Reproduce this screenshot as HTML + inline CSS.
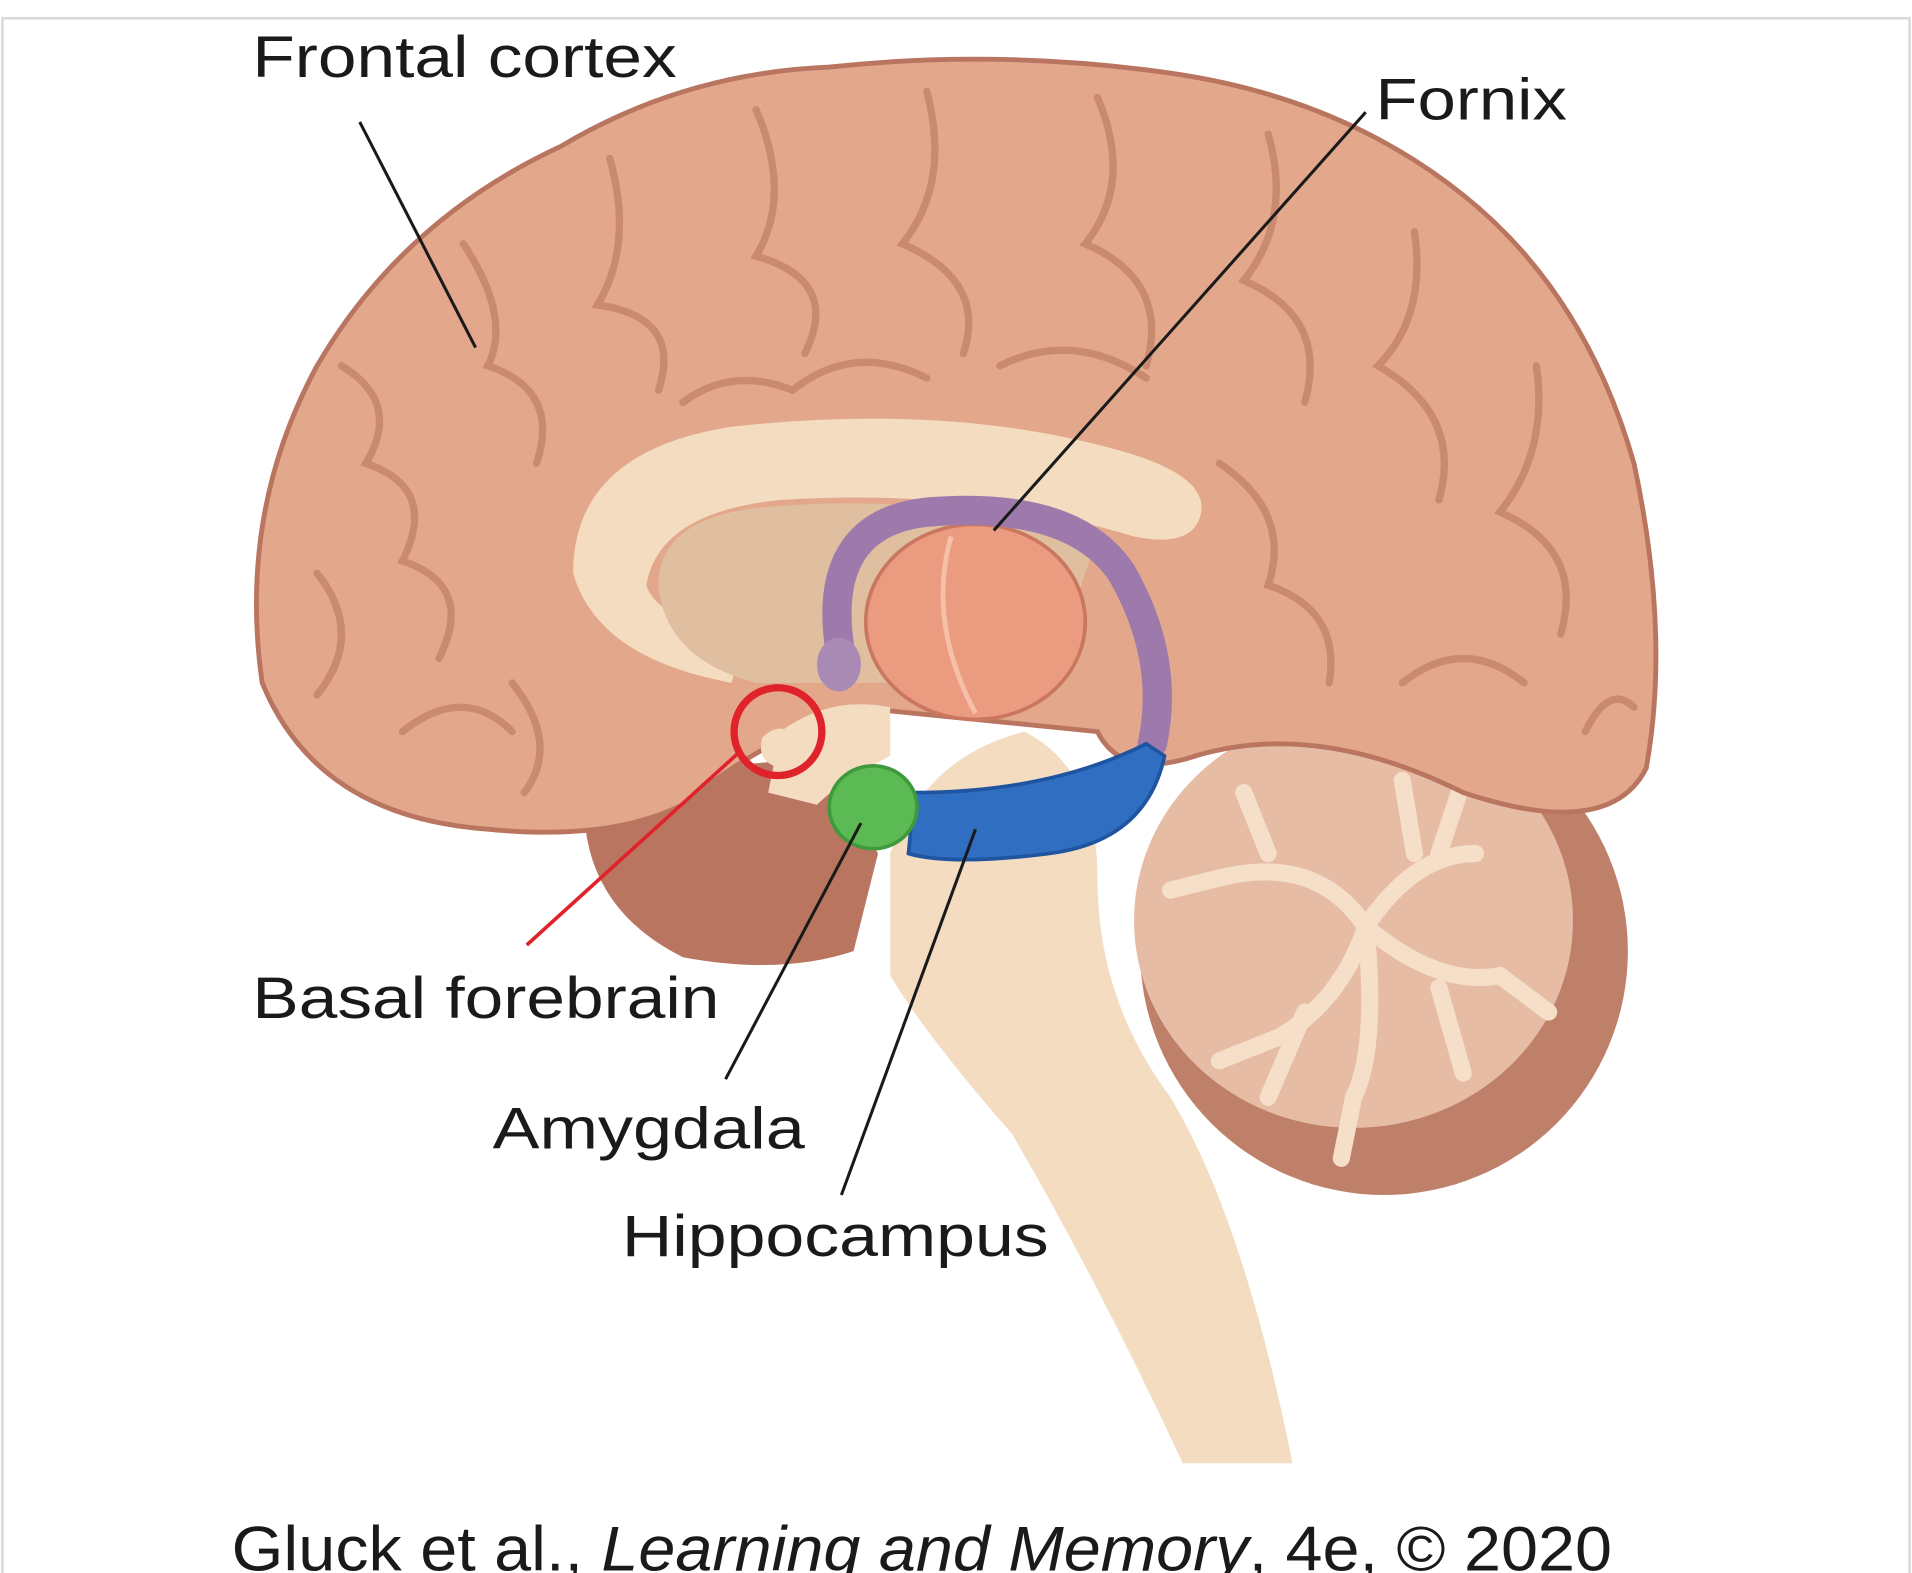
<!DOCTYPE html>
<html><head><meta charset="utf-8">
<style>
html,body{margin:0;padding:0;background:#fff;}
svg{display:block;}
text{font-family:"Liberation Sans",sans-serif;fill:#1a1a1a;}
</style></head>
<body>
<svg width="1912" height="1573" viewBox="0 0 1568 1290" preserveAspectRatio="none" xmlns="http://www.w3.org/2000/svg">
<rect x="2" y="15" width="1564" height="1290" fill="#fff" stroke="#d8d8d8" stroke-width="2"/>
<!-- temporal lobe underside -->
<path d="M480,640 Q470,740 560,785 Q640,800 700,780 L720,700 L680,620 Z" fill="#b97560"/>
<!-- cerebellum -->
<ellipse cx="1135" cy="780" rx="200" ry="200" fill="#bf806a"/>
<ellipse cx="1110" cy="755" rx="180" ry="170" fill="#e6bca4"/>
<g stroke="#f6dfc8" stroke-width="14" fill="none" stroke-linecap="round">
<path d="M1000,720 Q1080,700 1120,760 Q1160,700 1210,700 M1120,760 Q1100,820 1050,850 M1120,760 Q1180,810 1230,800 M1120,760 Q1130,860 1110,900"/>
<path d="M1040,700 L1020,650 M1180,700 L1200,640 M1050,850 L1000,870 M1230,800 L1270,830 M1110,900 L1100,950 M1000,720 L960,730 M1160,700 L1150,640 M1070,830 L1040,900 M1180,810 L1200,880"/>
</g>
<!-- cerebrum -->
<path d="M215,560 Q195,420 260,300 Q330,180 460,120 Q560,60 680,55 Q820,40 960,60 Q1100,80 1200,160 Q1300,240 1340,380 Q1370,520 1350,630 Q1320,690 1200,650 Q1080,590 980,620 Q920,640 900,600 L700,580 Q620,610 560,660 Q500,690 400,680 Q260,670 215,560 Z" fill="#e3a88c" stroke="#b97560" stroke-width="4"/>
<g stroke="#c98a6f" stroke-width="6" fill="none" stroke-linecap="round">
<path d="M280,300 Q330,330 300,380 Q360,400 330,460 Q390,480 360,540"/>
<path d="M380,200 Q420,260 400,300 Q460,320 440,380"/>
<path d="M500,130 Q520,200 490,250 Q560,260 540,320"/>
<path d="M620,90 Q650,160 620,210 Q690,230 660,290"/>
<path d="M760,75 Q780,150 740,200 Q810,230 790,290"/>
<path d="M900,80 Q930,150 890,200 Q960,230 940,300"/>
<path d="M1040,110 Q1060,180 1020,230 Q1090,260 1070,330"/>
<path d="M1160,190 Q1170,260 1130,300 Q1200,340 1180,410"/>
<path d="M1260,300 Q1270,370 1230,420 Q1300,450 1280,520"/>
<path d="M1250,560 Q1200,520 1150,560"/>
<path d="M260,470 Q300,520 260,570"/>
<path d="M420,560 Q460,610 430,650"/>
<path d="M1000,380 Q1060,420 1040,480 Q1100,500 1090,560"/>
<path d="M560,330 Q600,300 650,320 Q700,280 760,310"/>
<path d="M820,300 Q880,270 940,310"/>
<path d="M330,600 Q380,560 420,600"/>
<path d="M1300,600 Q1320,560 1340,580"/>
</g>
<!-- corpus callosum region -->
<path d="M470,470 Q470,370 600,350 Q780,330 920,370 Q990,390 985,420 Q980,450 930,440 Q800,400 640,410 Q540,420 530,480 Q540,510 610,520 L600,560 Q490,540 470,470 Z" fill="#f3dcc0"/>
<path d="M540,480 Q540,420 640,415 Q760,405 900,440 L860,560 L620,560 Q545,540 540,480 Z" fill="#dfbf9f"/>
<!-- brainstem -->
<path d="M730,700 Q760,620 840,600 Q900,630 900,720 Q900,820 960,900 Q1020,1000 1060,1200 L970,1200 Q900,1050 830,930 Q760,850 730,800 Z" fill="#f3dcc0"/>
<path d="M640,600 Q680,570 730,580 L730,620 Q690,640 670,660 L630,650 Z" fill="#f3dcc0"/>
<!-- thalamus -->
<ellipse cx="800" cy="510" rx="90" ry="80" fill="#eb9b80" stroke="#c9775e" stroke-width="3"/>
<path d="M780,440 Q760,510 800,585" stroke="#f5c0a8" stroke-width="4" fill="none"/>
<!-- fornix -->
<path d="M690,540 Q670,430 760,420 Q880,410 920,470 Q960,540 945,610" stroke="#9d7aab" stroke-width="24" fill="none" stroke-linecap="round"/>
<ellipse cx="688" cy="545" rx="18" ry="22" fill="#a88ab5"/>
<!-- hippocampus -->
<path d="M750,650 Q860,650 940,610 L955,620 Q940,690 860,700 Q780,710 745,700 Z" fill="#2f6ec1" stroke="#1f55a0" stroke-width="3"/>
<!-- amygdala -->
<ellipse cx="716" cy="662" rx="36" ry="34" fill="#5cba55" stroke="#3e9a3c" stroke-width="3"/>
<!-- basal forebrain -->
<path d="M625,605 Q640,590 655,605 Q660,625 640,630 Q620,625 625,605 Z" fill="#f3dcc0"/>
<circle cx="638" cy="600" r="36" fill="none" stroke="#e0232b" stroke-width="6"/>
<!-- leader lines -->
<g stroke="#1a1a1a" stroke-width="2.5">
<line x1="295" y1="100" x2="390" y2="285"/>
<line x1="1120" y1="92" x2="815" y2="435"/>
<line x1="706" y1="675" x2="595" y2="885"/>
<line x1="800" y1="680" x2="690" y2="980"/>
</g>
<line x1="605" y1="618" x2="432" y2="775" stroke="#e0232b" stroke-width="3"/>
<!-- labels -->
<text x="207" y="63" font-size="48" textLength="348" lengthAdjust="spacingAndGlyphs">Frontal cortex</text>
<text x="1128" y="98" font-size="48" textLength="157" lengthAdjust="spacingAndGlyphs">Fornix</text>
<text x="207" y="835" font-size="48" textLength="383" lengthAdjust="spacingAndGlyphs">Basal forebrain</text>
<text x="404" y="942" font-size="48" textLength="256" lengthAdjust="spacingAndGlyphs">Amygdala</text>
<text x="510" y="1030" font-size="48" textLength="350" lengthAdjust="spacingAndGlyphs">Hippocampus</text>
<text x="190" y="1288" font-size="52" textLength="1132" lengthAdjust="spacingAndGlyphs">Gluck et al., <tspan font-style="italic">Learning and Memory</tspan>, 4e, © 2020</text>
</svg>
</body></html>
